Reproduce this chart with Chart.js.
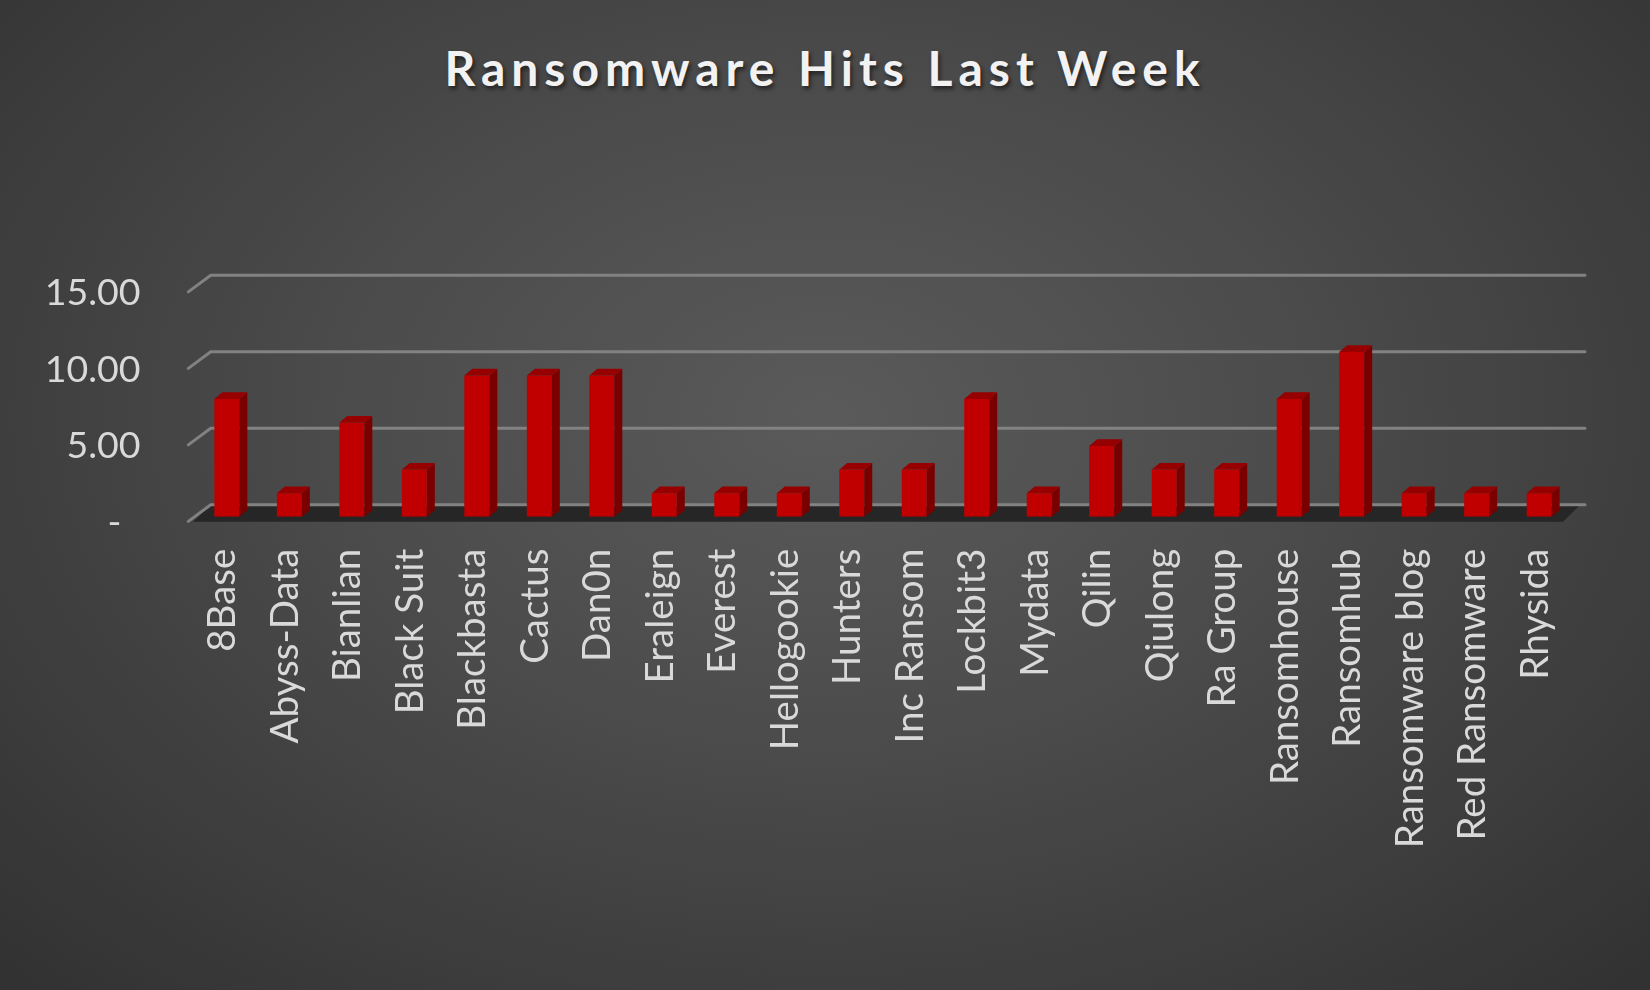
<!DOCTYPE html>
<html>
<head>
<meta charset="utf-8">
<script src="https://cdn.jsdelivr.net/npm/chart.js@4.4.1/dist/chart.umd.min.js"></script>
<style>
html,body{margin:0;padding:0;width:1650px;height:990px;overflow:hidden;}
body{background:radial-gradient(ellipse 70% 80% at 50% 42%, #5a5a5a 0%, #4c4c4c 40%, #323232 100%);position:relative;}
#title{position:absolute;left:0;top:44px;width:1650px;text-align:center;font:700 48px/47px Lato,sans-serif;letter-spacing:6px;color:#f2f2f2;text-shadow:2px 3px 4px rgba(0,0,0,0.55);}
canvas{position:absolute;left:0;top:0;}
</style>
</head>
<body>
<div id="title">Ransomware Hits Last Week</div>
<canvas id="hits" width="1650" height="990"></canvas>
<script>
// groups and their share of last week's hits
const groups = ['8Base','Abyss-Data','Bianlian','Black Suit','Blackbasta','Cactus','Dan0n','Eraleign','Everest','Hellogookie','Hunters','Inc Ransom','Lockbit3','Mydata','Qilin','Qiulong','Ra Group','Ransomhouse','Ransomhub','Ransomware blog','Red Ransomware','Rhysida'];
const hits = [7.69,1.54,6.15,3.08,9.23,9.23,9.23,1.54,1.54,1.54,3.08,3.08,7.69,1.54,4.62,3.08,3.08,7.69,10.77,1.54,1.54,1.54];
const yTicks = [0,5,10,15];

// fake 3d: floor, back wall grid lines, side and top faces of the columns
const depthX = 8, depthY = 6.7;
const threeD = {
    id:'threeD',
    beforeDatasetsDraw(chart){
        let ctx=chart.ctx, a=chart.chartArea, y=chart.scales.y;
        let base=y.getPixelForValue(0);
        ctx.save();
        // floor
        ctx.fillStyle='#262626';
        ctx.beginPath();
        ctx.moveTo(a.left-2.6, base+5);
        ctx.lineTo(a.right-7.4, base+5);
        ctx.lineTo(a.right+9.6, base-11.7);
        ctx.lineTo(a.left+15, base-11.7);
        ctx.closePath();
        ctx.fill();
        // grid lines on the back wall
        ctx.strokeStyle='#828282';
        ctx.lineWidth=3;
        ctx.lineCap='round';
        for(let i=0;i<yTicks.length;++i){
            let yb=y.getPixelForValue(yTicks[i])-12;
            ctx.beginPath();
            ctx.moveTo(a.left-7.3, yb+16.7);
            ctx.lineTo(a.left+15.1, yb);
            ctx.lineTo(a.right+14.6, yb);
            ctx.stroke();
        }
        ctx.restore();
    },
    afterDatasetsDraw(chart){
        let ctx=chart.ctx;
        let bars=chart.getDatasetMeta(0).data;
        ctx.save();
        for(let i=0;i<bars.length;++i){
            let b=bars[i];
            let l=b.x-b.width/2, r=b.x+b.width/2;
            ctx.fillStyle='#7a0000';
            ctx.beginPath();
            ctx.moveTo(r,b.y);
            ctx.lineTo(r+depthX,b.y-depthY);
            ctx.lineTo(r+depthX,b.base-depthY);
            ctx.lineTo(r,b.base);
            ctx.closePath();
            ctx.fill();
            ctx.fillStyle='#960000';
            ctx.beginPath();
            ctx.moveTo(l,b.y);
            ctx.lineTo(l+depthX,b.y-depthY);
            ctx.lineTo(r+depthX,b.y-depthY);
            ctx.lineTo(r,b.y);
            ctx.closePath();
            ctx.fill();
        }
        ctx.restore();
    }
};

function draw(){
    new Chart(document.getElementById('hits'), {
        type:'bar',
        data:{
            labels:groups,
            datasets:[{
                data:hits,
                backgroundColor:'#c00000',
                borderWidth:0,
                barPercentage:0.4,
                categoryPercentage:1
            }]
        },
        options:{
            responsive:false,
            devicePixelRatio:1,
            animation:false,
            layout:{padding:{top:287.2,bottom:73.3,left:0,right:79.6}},
            plugins:{legend:{display:false},tooltip:{enabled:false},title:{display:false}},
            scales:{
                x:{
                    grid:{display:false,drawTicks:false},
                    border:{display:false},
                    ticks:{color:'#d9d9d9',font:{family:'Lato',size:38.5},minRotation:90,maxRotation:90,autoSkip:false,padding:32,labelOffset:-4},
                    afterFit(s){s.height=400;}
                },
                y:{
                    min:0,max:15,
                    grid:{display:false,drawTicks:false},
                    border:{display:false},
                    ticks:{stepSize:5,color:'#d9d9d9',font:{family:'Lato',size:37.5},padding:55,labelOffset:6,
                        callback:function(v){return v===0?'-  ':v.toFixed(2);}},
                    afterFit(s){s.width=195.6;}
                }
            }
        },
        plugins:[threeD]
    });
}
document.fonts.load('38px Lato').then(draw,draw);
</script>
</body>
</html>
